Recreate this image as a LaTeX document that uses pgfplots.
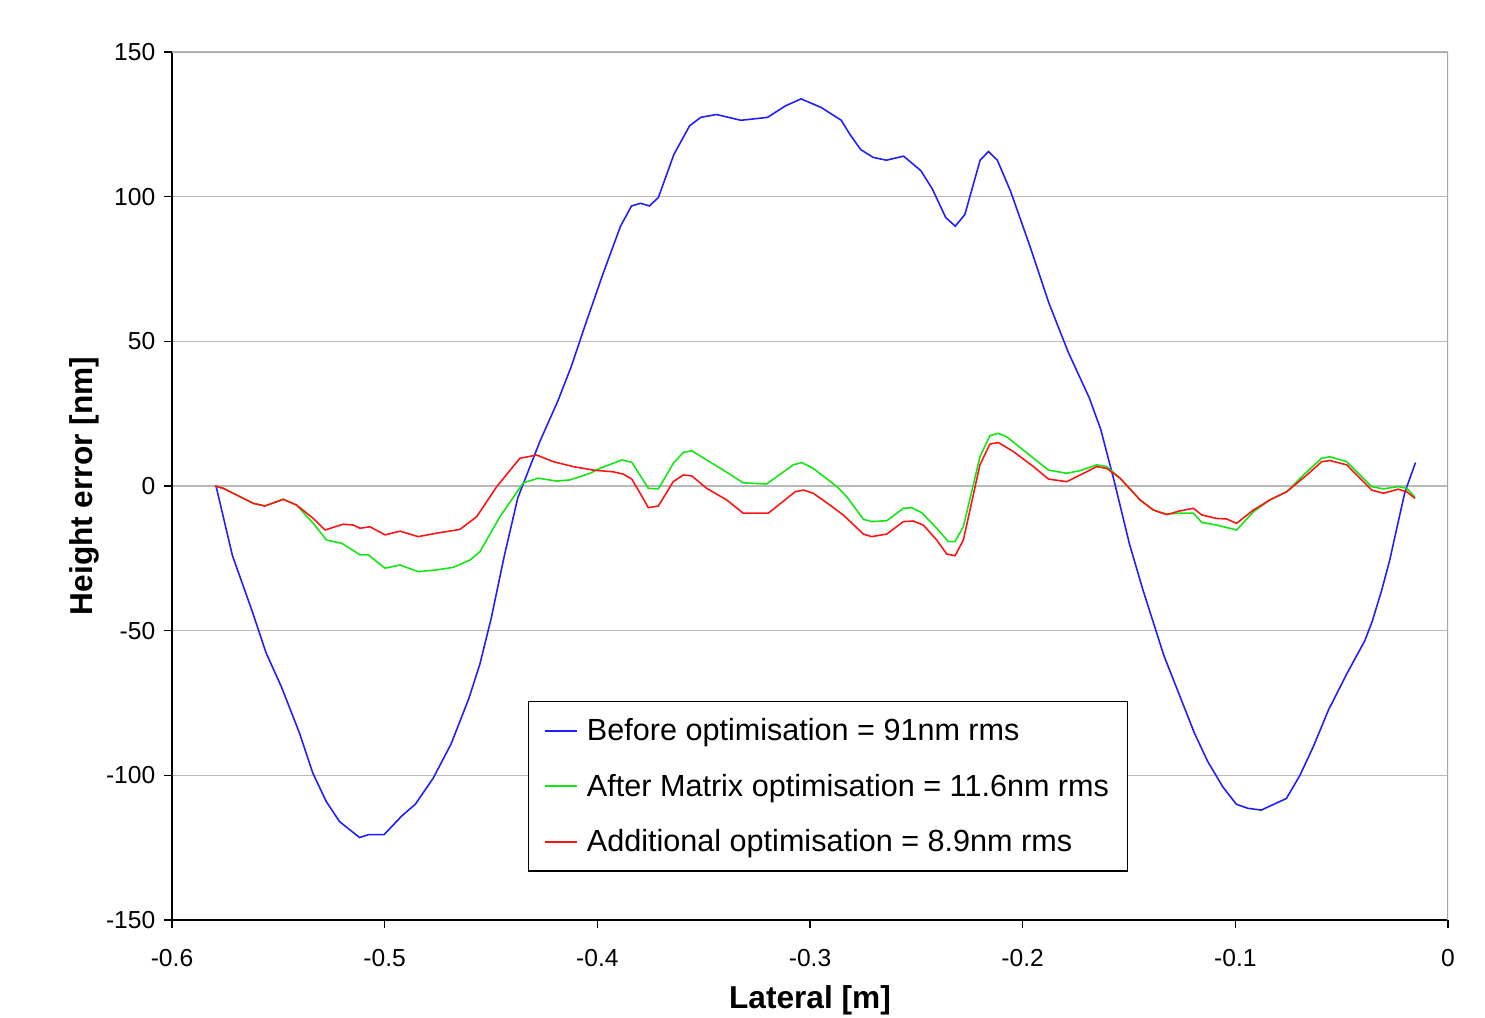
\documentclass[border=0pt]{standalone}
\usepackage{fontspec}
\setmainfont{Liberation Sans}
\usepackage{pgfplots}
\pgfplotsset{compat=1.18}
\definecolor{cBlue}{RGB}{30,30,255}
\definecolor{cGreen}{RGB}{20,230,20}
\definecolor{cRed}{RGB}{255,20,20}
\begin{document}
\begin{tikzpicture}
% page frame: 1 px of the reference = 0.02 cm
\path[use as bounding box] (-3.44cm,-1.94cm) rectangle (26.26cm,18.4cm);
\begin{axis}[
  scale only axis, width=25.52cm, height=17.36cm,
  xmin=-0.6, xmax=0, ymin=-150, ymax=150,
  xtick={-0.6,-0.5,...,0}, ytick={-150,-100,...,150},
  xticklabels={-0.6,-0.5,-0.4,-0.3,-0.2,-0.1,0},
  axis x line*=bottom, axis y line*=left,
  axis line style={black, line width=1pt},
  tick align=outside, major tick length=0.16cm,
  tick style={black, line width=0.8pt},
  ymajorgrids, grid style={gray!55, line width=0.6pt},
  /pgf/number format/assume math mode=true,
  tick label style={font=\fontsize{14}{16}\selectfont},
  xticklabel style={yshift=-0.3cm},
  yticklabel style={xshift=-0.05cm},
  xlabel={\textbf{Lateral [m]}},
  ylabel={\textbf{Height error [nm]}},
  label style={font=\fontsize{18}{20}\selectfont},
  xlabel style={yshift=-0.14cm},
  ylabel style={yshift=-0.1cm},
  legend cell align=left,
  legend style={at={(axis cs:-0.4326,-74.3)}, anchor=north west,
    draw=black, line width=0.8pt, font=\fontsize{17.4}{20}\selectfont,
    inner xsep=0.3cm, inner ysep=0.26cm, row sep=0.48cm},
  legend image code/.code={\draw[#1, line width=1.1pt] (0cm,0cm) -- (0.64cm,0cm);
    \path (0.76cm,0cm);},
  every axis plot/.append style={line width=0.9pt},
]
\draw[gray!70, line width=0.8pt] (rel axis cs:0,1) -- (rel axis cs:1,1) -- (rel axis cs:1,0);

\addplot[cBlue] coordinates {
(-0.5793,0) (-0.5716,-24) (-0.5621,-43.7) (-0.5558,-57.6) (-0.5485,-69.5)
(-0.5401,-85.3) (-0.5338,-99.2) (-0.5275,-109) (-0.5212,-116) (-0.5118,-121.5)
(-0.5076,-120.5) (-0.5003,-120.5) (-0.4919,-114) (-0.4856,-110) (-0.4772,-101)
(-0.4688,-89.2) (-0.4604,-73.4) (-0.4552,-61.5) (-0.4499,-45.7) (-0.4437,-24)
(-0.4374,-4.1) (-0.4332,3.8) (-0.4269,15.6) (-0.4185,29.5) (-0.4122,41.4)
(-0.4059,55.2) (-0.3975,73) (-0.3891,89.8) (-0.3839,96.8) (-0.3797,97.7)
(-0.3755,96.8) (-0.3713,99.7) (-0.364,114.6) (-0.3566,124.5) (-0.3514,127.4)
(-0.344,128.4) (-0.3325,126.4) (-0.32,127.4) (-0.3115,131.4) (-0.3042,133.8)
(-0.2947,130.8) (-0.2853,126.4) (-0.2812,121.5) (-0.2762,116.3) (-0.2704,113.6)
(-0.2641,112.6) (-0.256,114) (-0.2479,109) (-0.2425,102.7) (-0.2362,92.8)
(-0.2317,89.8) (-0.2272,93.8) (-0.22,112.6) (-0.2161,115.6) (-0.2119,112.6)
(-0.2056,101.7) (-0.1966,82.9) (-0.1876,63.1) (-0.1786,46.3) (-0.1687,30.5)
(-0.1633,19.6) (-0.157,1.8) (-0.1498,-20) (-0.1435,-35.8) (-0.1336,-58.6)
(-0.1246,-75.4) (-0.1193,-85.3) (-0.113,-95.2) (-0.1058,-104.1) (-0.0995,-110)
(-0.0941,-111.4) (-0.0878,-112) (-0.076,-108) (-0.0697,-100.1) (-0.0634,-90.2)
(-0.0562,-77.4) (-0.0473,-64.5) (-0.0392,-53.6) (-0.0356,-46.7) (-0.0311,-35.8)
(-0.0275,-25.9) (-0.0239,-14) (-0.0203,-2.2) (-0.0153,8.1)
};
\addlegendentry{Before optimisation = 91nm rms}

\addplot[cGreen] coordinates {
(-0.5798,0) (-0.5759,-0.8) (-0.568,-3.7) (-0.5618,-6) (-0.5563,-6.9)
(-0.5477,-4.6) (-0.5414,-6.6) (-0.5336,-12.9) (-0.5273,-18.7) (-0.5202,-19.8)
(-0.5116,-23.8) (-0.5077,-23.8) (-0.4998,-28.4) (-0.4928,-27.3) (-0.4842,-29.6)
(-0.4755,-29) (-0.4677,-28.1) (-0.4599,-25.6) (-0.4552,-22.7) (-0.4458,-10.6)
(-0.4348,1.1) (-0.4278,2.7) (-0.4191,1.7) (-0.4129,2.1) (-0.4034,4.4)
(-0.3988,6.1) (-0.3885,9) (-0.3838,8.2) (-0.376,-0.8) (-0.3713,-1)
(-0.3643,7.8) (-0.3596,11.6) (-0.3556,12.2) (-0.3408,5.5) (-0.3314,1.1)
(-0.3204,0.7) (-0.3079,7.3) (-0.3039,8.1) (-0.2985,6.1) (-0.2874,-0.2)
(-0.2827,-3.7) (-0.2749,-11.5) (-0.271,-12.3) (-0.2639,-12) (-0.2561,-7.7)
(-0.2522,-7.5) (-0.2475,-9.2) (-0.2404,-14.6) (-0.235,-19.2) (-0.2318,-19.2)
(-0.2279,-14.1) (-0.2201,10.1) (-0.2154,17.4) (-0.2114,18.2) (-0.2075,17)
(-0.1997,12.4) (-0.1879,5.5) (-0.1793,4.4) (-0.173,5.3) (-0.1652,7.3)
(-0.1605,6.7) (-0.1542,2.7) (-0.1448,-4.8) (-0.1386,-8.3) (-0.1323,-9.7)
(-0.126,-9.4) (-0.1197,-9.4) (-0.1158,-12.6) (-0.1088,-13.5) (-0.0994,-15.2)
(-0.0915,-8.9) (-0.0837,-4.8) (-0.0759,-2) (-0.0664,4.9) (-0.0594,9.6)
(-0.0555,10.1) (-0.0476,8.4) (-0.0414,3.8) (-0.0359,-0.2) (-0.0304,-1)
(-0.0234,-0.2) (-0.0194,-0.8) (-0.0155,-3.9)
};
\addlegendentry{After Matrix optimisation = 11.6nm rms}

\addplot[cRed] coordinates {
(-0.5798,0) (-0.5759,-0.8) (-0.568,-3.7) (-0.5618,-6) (-0.5563,-6.9)
(-0.5477,-4.6) (-0.5414,-6.6) (-0.5336,-11.2) (-0.528,-15.2) (-0.5195,-13.2)
(-0.5147,-13.5) (-0.5116,-14.6) (-0.5069,-14.1) (-0.4998,-16.9) (-0.4928,-15.6)
(-0.4842,-17.5) (-0.4755,-16.3) (-0.4646,-15) (-0.4567,-10.6) (-0.4473,-0.2)
(-0.4364,9.6) (-0.4285,10.7) (-0.4207,8.4) (-0.4113,6.7) (-0.4019,5.5)
(-0.3925,4.9) (-0.3878,4.1) (-0.3838,2.4) (-0.3799,-2.5) (-0.376,-7.5)
(-0.3713,-6.9) (-0.3643,1.5) (-0.3596,3.8) (-0.3556,3.5) (-0.3486,-0.8)
(-0.3392,-4.8) (-0.3314,-9.4) (-0.3196,-9.4) (-0.307,-2) (-0.3031,-1.4)
(-0.2985,-2.5) (-0.2906,-6.6) (-0.2844,-10) (-0.2749,-16.6) (-0.271,-17.5)
(-0.2639,-16.6) (-0.2561,-12.3) (-0.2514,-12.1) (-0.2467,-13.5) (-0.2404,-18.7)
(-0.2357,-23.5) (-0.2318,-24.1) (-0.2279,-18.7) (-0.2201,7.3) (-0.2154,14.5)
(-0.2114,15) (-0.2044,11.9) (-0.1949,6.7) (-0.1879,2.4) (-0.1793,1.5)
(-0.173,3.8) (-0.1652,6.7) (-0.1605,6.1) (-0.1542,2.7) (-0.1448,-4.8)
(-0.1386,-8.3) (-0.1323,-9.9) (-0.126,-8.6) (-0.1197,-7.7) (-0.1158,-10)
(-0.1088,-11.2) (-0.1041,-11.4) (-0.0994,-12.9) (-0.0915,-8.3) (-0.0837,-4.8)
(-0.0759,-2) (-0.0664,3.8) (-0.0594,8.4) (-0.0555,8.8) (-0.0476,7.3)
(-0.0414,2.7) (-0.0359,-1.4) (-0.0304,-2.5) (-0.0234,-1.1) (-0.0194,-2)
(-0.0155,-4.3)
};
\addlegendentry{Additional optimisation = 8.9nm rms}
\end{axis}
\end{tikzpicture}
\end{document}
